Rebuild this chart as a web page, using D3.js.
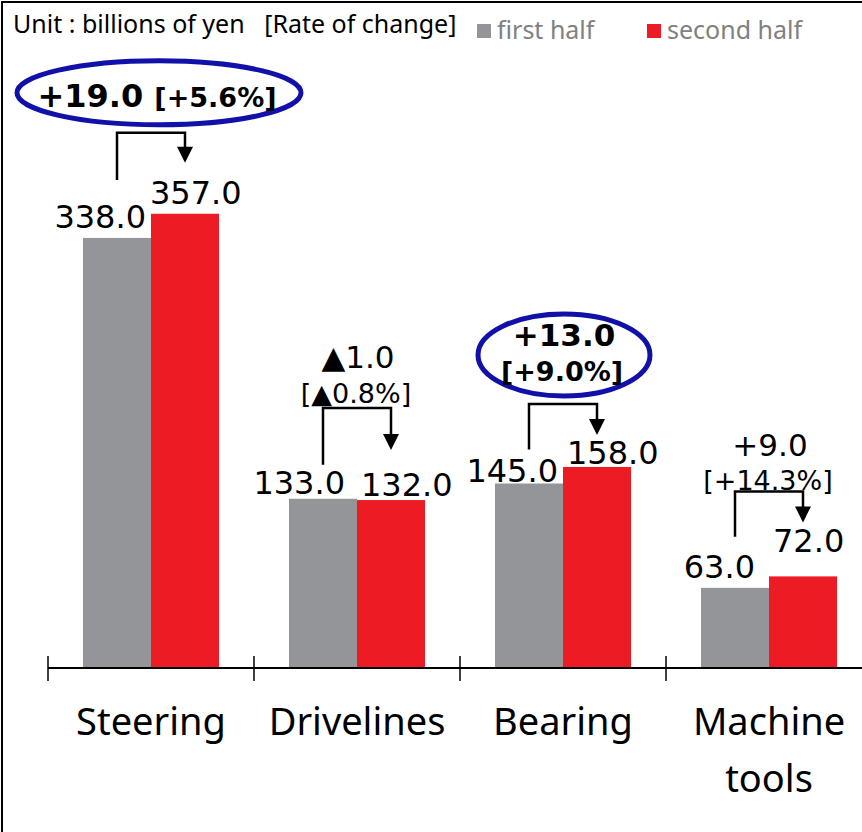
<!DOCTYPE html>
<html>
<head>
<meta charset="utf-8">
<script src="https://cdn.jsdelivr.net/npm/d3@7"></script>
<style>
  body { margin: 0; background: #fff; }
  svg { display: block; }
</style>
</head>
<body>
<script>
const categories = [["Steering"], ["Drivelines"], ["Bearing"], ["Machine", "tools"]];
const series = ["first half", "second half"];
const firstHalf = [338.0, 133.0, 145.0, 63.0];
const secondHalf = [357.0, 132.0, 158.0, 72.0];
const diffText = ["+19.0", "▲1.0", "+13.0", "+9.0"];
const rateText = ["[+5.6%]", "[▲0.8%]", "[+9.0%]", "[+14.3%]"];
const highlighted = [true, false, true, false];

const colors = ["#939598", "#ed1c24"];
const W = 862, H = 832;
const num = "'DejaVu Sans', Verdana, sans-serif";
const txt = "'Noto Sans', 'Open Sans', sans-serif";

// how far each annotation sits above / beside the bars (px)
const lift = [
  {top: 81, leg: 58, tip: 51, g: 10, r: 10, gx: 0, rx: -5},
  {top: 92, leg: 34, tip: 50, g: 5, r: 4, gx: -7, rx: 0},
  {top: 63, leg: 34, tip: 32, g: 2, r: 3, gx: 0, rx: 0},
  {top: 85, leg: 51, tip: 54, g: 10, r: 24, gx: -9, rx: 0}
];

const svg = d3.select("body").append("svg")
    .attr("width", W)
    .attr("height", H);

svg.append("rect")
    .attr("x", 2).attr("y", 2)
    .attr("width", W + 10).attr("height", H + 10)
    .attr("fill", "none").attr("stroke", "#000").attr("stroke-width", 2);

const names = categories.map(d => d.join(" "));
const x = d3.scaleBand().domain(names).range([48, 872]);
const xi = d3.scaleBand().domain(series).range([35, 171]);
const y = d3.scaleLinear().domain([0, 525]).range([668, 0]);

const rows = names.map((n, i) => ({name: n, i, vals: [firstHalf[i], secondHalf[i]]}));

const g = svg.selectAll("g.cat").data(rows).enter().append("g")
    .attr("class", "cat")
    .attr("transform", d => `translate(${x(d.name)},0)`);

g.selectAll("rect").data(d => d.vals.map((v, k) => ({v, k}))).enter().append("rect")
    .attr("x", d => xi(series[d.k]))
    .attr("width", xi.bandwidth())
    .attr("y", d => y(d.v))
    .attr("height", d => y(0) - y(d.v))
    .attr("fill", d => colors[d.k]);

// value labels
g.append("text")
    .attr("x", d => xi(series[0]) + xi.bandwidth() - 5 + lift[d.i].gx)
    .attr("y", d => y(d.vals[0]) - lift[d.i].g)
    .attr("text-anchor", "end")
    .attr("font-family", num).attr("font-size", 32)
    .text(d => d.vals[0].toFixed(1));
g.append("text")
    .attr("x", d => xi(series[1]) + 4 + lift[d.i].rx)
    .attr("y", d => y(d.vals[1]) - lift[d.i].r)
    .attr("text-anchor", "start")
    .attr("font-family", num).attr("font-size", 32)
    .text(d => d.vals[1].toFixed(1));

// bracket arrows
const cx0 = xi(series[0]) + xi.bandwidth() / 2;
const cx1 = xi(series[1]) + xi.bandwidth() / 2;
g.append("path")
    .attr("fill", "none").attr("stroke", "#000").attr("stroke-width", 2.5)
    .attr("d", d => {
      const t = y(d.vals[1]) - lift[d.i].top;
      const b = y(d.vals[0]) - lift[d.i].leg;
      const tip = y(d.vals[1]) - lift[d.i].tip;
      return `M${cx0},${b}V${t}H${cx1}V${tip - 14}`;
    });
g.append("path")
    .attr("fill", "#000")
    .attr("d", d => {
      const tip = y(d.vals[1]) - lift[d.i].tip;
      return `M${cx1 - 8},${tip - 16}L${cx1 + 8},${tip - 16}L${cx1},${tip}Z`;
    });

// change annotations
const mid = (cx0 + cx1) / 2;
g.each(function(d) {
  const sel = d3.select(this);
  const t = y(d.vals[1]) - lift[d.i].top;
  if (d.i === 0) {
    sel.append("ellipse")
        .attr("cx", mid + 8).attr("cy", t - 40)
        .attr("rx", 142).attr("ry", 32)
        .attr("fill", "none").attr("stroke", "#1111aa").attr("stroke-width", 5);
    const tx = sel.append("text")
        .attr("x", mid + 6).attr("y", t - 26)
        .attr("text-anchor", "middle")
        .attr("font-family", num).attr("font-weight", "bold");
    tx.append("tspan").attr("font-size", 32).text(diffText[d.i] + " ");
    tx.append("tspan").attr("font-size", 27).text(rateText[d.i]);
  } else {
    const b = highlighted[d.i];
    const l1 = b ? 58 : 40 - (d.i === 3 ? 5 : 0);
    const l2 = b ? 23 : (d.i === 3 ? 1 : 5);
    if (b) {
      sel.append("ellipse")
          .attr("cx", mid + 1).attr("cy", t - 49)
          .attr("rx", 86).attr("ry", 41)
          .attr("fill", "none").attr("stroke", "#1111aa").attr("stroke-width", 5);
    }
    sel.append("text")
        .attr("x", mid + 1).attr("y", t - l1)
        .attr("text-anchor", "middle")
        .attr("font-family", num).attr("font-size", 31)
        .attr("font-weight", b ? "bold" : "normal")
        .text(diffText[d.i]);
    sel.append("text")
        .attr("x", mid - 1).attr("y", t - l2)
        .attr("text-anchor", "middle")
        .attr("font-family", num).attr("font-size", 27)
        .attr("font-weight", b ? "bold" : "normal")
        .text(rateText[d.i]);
  }
});

// axis
const ax = svg.append("g");
ax.append("line")
    .attr("x1", x.range()[0]).attr("x2", W)
    .attr("y1", y(0)).attr("y2", y(0))
    .attr("stroke", "#000").attr("stroke-width", 2);
ax.selectAll("line.tick").data(names).enter().append("line")
    .attr("x1", d => x(d)).attr("x2", d => x(d))
    .attr("y1", y(0) - 12).attr("y2", y(0) + 13)
    .attr("stroke", "#000").attr("stroke-width", 1.5);
ax.selectAll("text").data(categories).enter().append("text")
    .attr("x", (d, i) => x(names[i]) + x.bandwidth() / 2)
    .attr("y", 735)
    .attr("text-anchor", "middle")
    .attr("font-family", txt).attr("font-size", 38)
    .selectAll("tspan").data(d => d).enter().append("tspan")
    .attr("x", function() { return d3.select(this.parentNode).attr("x"); })
    .attr("dy", (d, i) => i === 0 ? 0 : 57)
    .text(d => d);

// header and legend
svg.append("text")
    .attr("x", 13).attr("y", 33)
    .attr("font-family", txt).attr("font-size", 25)
    .attr("xml:space", "preserve")
    .text("Unit : billions of yen   [Rate of change]");

const lg = svg.selectAll("g.lg").data(series).enter().append("g")
    .attr("class", "lg")
    .attr("transform", (d, i) => `translate(${[477, 647][i]},24)`);
lg.append("rect").attr("width", 14).attr("height", 14).attr("fill", (d, i) => colors[i]);
lg.append("text")
    .attr("x", 20).attr("y", 15)
    .attr("font-family", txt).attr("font-size", 25)
    .attr("fill", "#808080")
    .text(d => d);
</script>
</body>
</html>
